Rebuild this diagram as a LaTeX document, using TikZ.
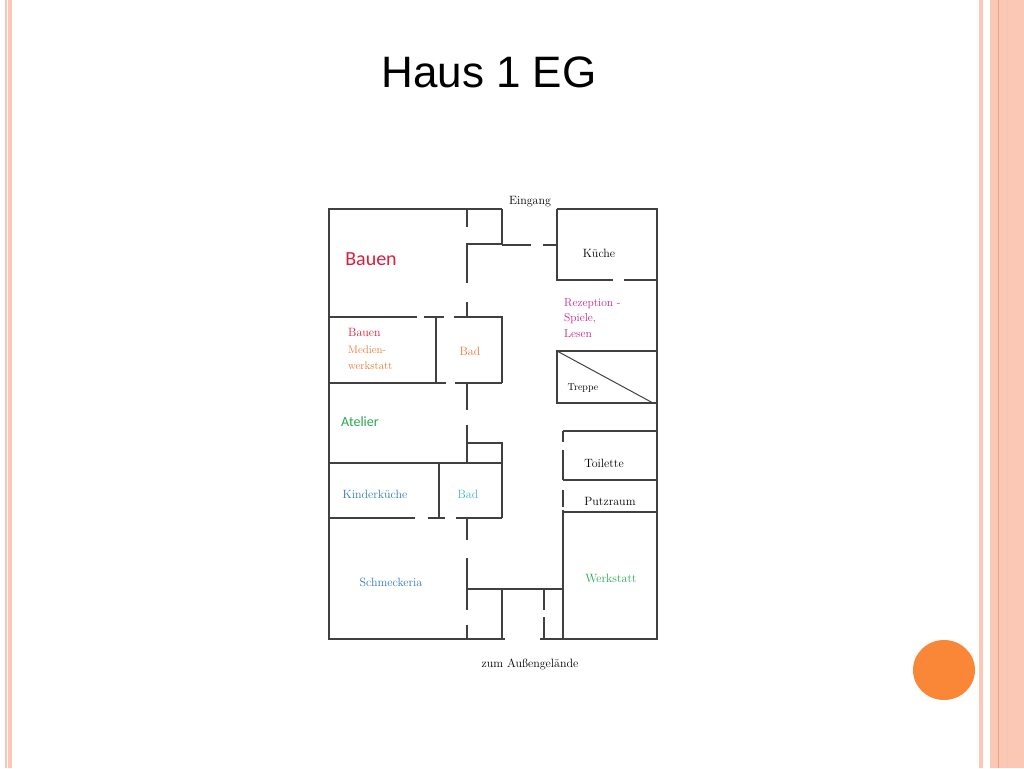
\documentclass[tikz,border=0pt]{standalone}
\usepackage{fontspec}
\newfontfamily\titlefont{Liberation Sans}
\newfontfamily\labelsans{Carlito}
\definecolor{stripe}{RGB}{252,200,182}
\definecolor{stripedark}{RGB}{240,160,130}
\definecolor{dot}{RGB}{250,135,55}
\definecolor{bauenred}{RGB}{220,30,60}
\definecolor{medien}{RGB}{235,120,50}
\definecolor{rezeption}{RGB}{200,40,130}
\definecolor{gruen}{RGB}{40,170,80}
\definecolor{blau}{RGB}{50,120,190}
\definecolor{hellblau}{RGB}{60,180,220}
\begin{document}
\begin{tikzpicture}[x=1pt,y=-1pt,
  wall/.style={line width=1.3pt,black!75},
  lbl/.style={inner sep=0pt,font=\fontsize{12}{14}\selectfont},
  lblleft/.style={lbl,anchor=west,align=left}]
\useasboundingbox (0,0) rectangle (1024,768);
% Rahmen der Folie
\fill[stripe] (5,0) rectangle (6.5,768);
\fill[stripe] (8,0) rectangle (12,768);
\fill[stripe] (979,0) rectangle (983,768);
\fill[stripe] (990,0) rectangle (1024,768);
\draw[stripedark,line width=0.8pt] (998,0) -- (998,768);
\draw[stripedark!60,line width=0.6pt] (1007,0) -- (1007,768);
\fill[dot] (944,670) ellipse (31 and 30);
\node(title)[font=\titlefont\fontsize{44}{50}\selectfont] at (489,72) {Haus 1 EG};
% Aussenwaende
\draw[wall] (502,209) -- (329,209) -- (329,639) -- (505,639);
\draw[wall] (540,639) -- (657,639) -- (657,209) -- (557,209);
% Flur links
\draw[wall] (467,209) -- (467,227) (467,243) -- (467,283) (467,302) -- (467,317);
\draw[wall] (467,244) -- (502,244) -- (502,209);
\draw[wall] (502,245) -- (531,245) (543,245) -- (557,245);
\draw[wall] (557,209) -- (557,280) -- (613,280) (624,280) -- (657,280);
% Bauen / Medienwerkstatt / Bad
\draw[wall] (329,317) -- (417,317) (424,317) -- (444,317) (454,317) -- (502,317) -- (502,383);
\draw[wall] (436,317) -- (436,383);
\draw[wall] (329,383) -- (446,383) (455,383) -- (502,383);
\draw[wall] (467,383) -- (467,410) (467,425) -- (467,462);
\draw[wall] (467,443) -- (502,443) -- (502,463);
% Kinderkueche / Bad
\draw[wall] (329,463) -- (502,463) -- (502,518);
\draw[wall] (439,463) -- (439,518);
\draw[wall] (329,518) -- (415,518) (428,518) -- (445,518) (456,518) -- (502,518);
\draw[wall] (467,518) -- (467,540) (467,558) -- (467,610) (467,625) -- (467,639);
% Ausgang
\draw[wall] (467,589) -- (563,589);
\draw[wall] (502,589) -- (502,639);
\draw[wall] (544,589) -- (544,610) (544,617) -- (544,639);
% Treppe
\draw[wall] (557,351) rectangle (657,403);
\draw[wall,line width=1pt] (557,351) -- (653,403);
% Toilette, Putzraum, Werkstatt
\draw[wall] (563,431) -- (657,431) (563,480) -- (657,480) (563,512) -- (657,512);
\draw[wall] (563,431) -- (563,442) (563,450) -- (563,480) (563,490) -- (563,507) (563,510) -- (563,639);
% Beschriftungen
\node(eingang)[lbl] at (530,202) {Eingang};
\node(kueche)[lbl] at (599,253) {Küche};
\node(rezeption)[lblleft,text=rezeption,font=\fontsize{11.5}{15.5}\selectfont] at (564,318) {Rezeption -\\Spiele,\\Lesen};
\node(bauengross)[lbl,text=bauenred,font=\labelsans\fontsize{20}{22}\selectfont] at (371,259) {Bauen};
\node(bauen)[lblleft,text=bauenred] at (348,332) {Bauen};
\node(medien)[lblleft,text=medien,font=\fontsize{11}{16}\selectfont] at (348,358) {Medien-\\werkstatt};
\node(badoben)[lbl,text=medien] at (470,351) {Bad};
\node(treppe)[lbl,font=\fontsize{10}{12}\selectfont] at (583,388) {Treppe};
\node(atelier)[lbl,text=gruen,font=\labelsans\fontsize{14}{16}\selectfont] at (360,422) {Atelier};
\node(toilette)[lbl] at (604,463) {Toilette};
\node(kinderkueche)[lbl,text=blau] at (375,494) {Kinderküche};
\node(badunten)[lbl,text=hellblau] at (468,494) {Bad};
\node(putzraum)[lbl] at (610,501) {Putzraum};
\node(werkstatt)[lbl,text=gruen] at (611,578) {Werkstatt};
\node(schmeckeria)[lbl,text=blau] at (391,582) {Schmeckeria};
\node(aussen)[lbl] at (530,664) {zum Außengelände};
\end{tikzpicture}
\end{document}
